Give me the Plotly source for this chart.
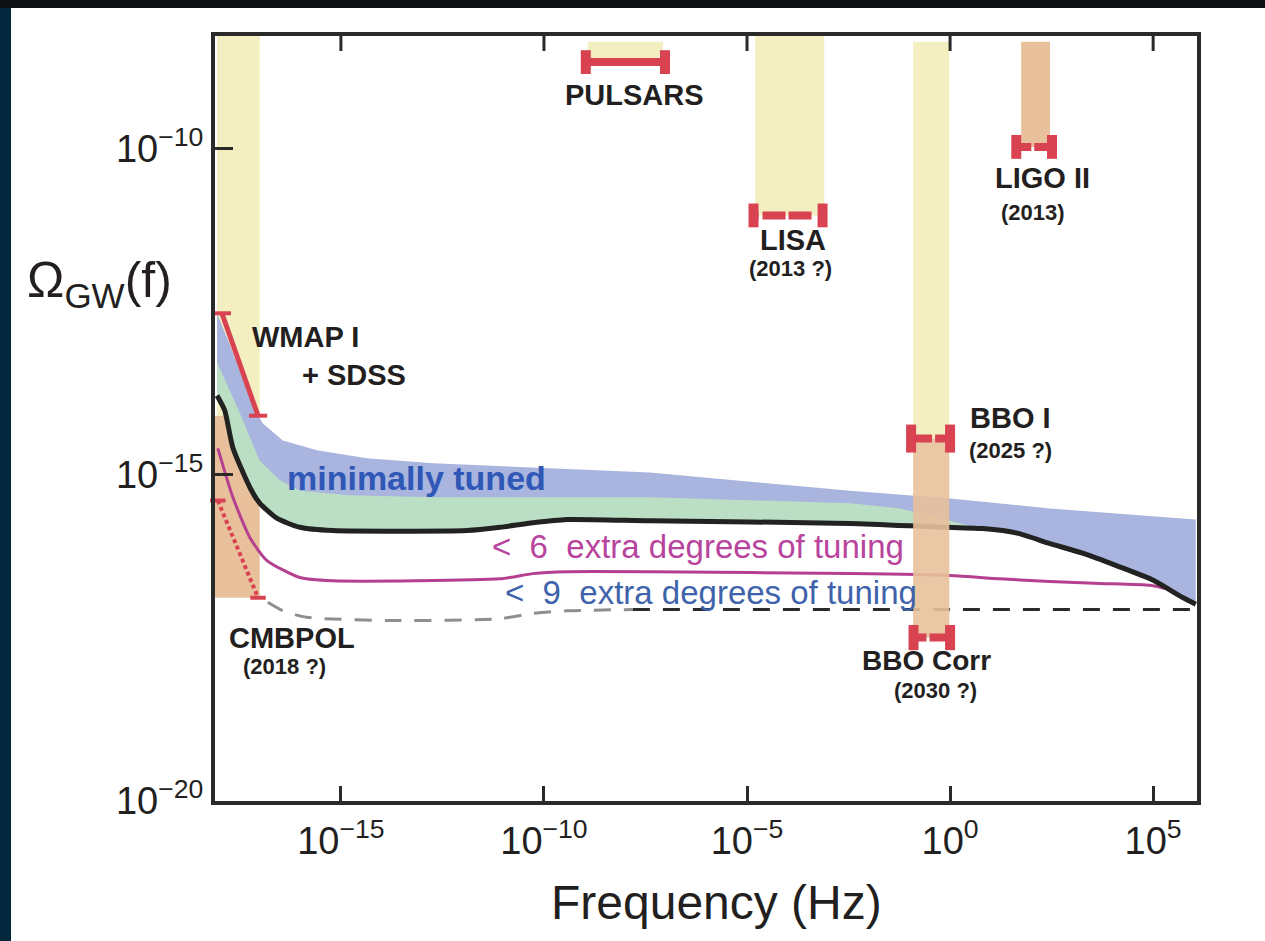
import numpy as np
import plotly.graph_objects as go

# ---------------- data (log10 values) ----------------
black_logf = [-18.05, -17.86, -17.66, -17.24, -17.00, -16.58, -16.01, -15.20, -11.90, -11.08,
              -10.27, -9.43, -7.39, -2.46, -0.49, 0.81, 1.65, 2.46, 3.28, 4.11, 4.93, 5.74, 6.05]
black_logomega = [-13.79, -14.02, -14.59, -15.20, -15.44, -15.67, -15.81, -15.86, -15.86, -15.81,
                  -15.74, -15.69, -15.71, -15.75, -15.80, -15.83, -15.90, -16.06, -16.21, -16.40,
                  -16.60, -16.89, -16.99]

blue_upper_logf = [-18.05, -17.73, -17.36, -17.12, -16.92, -16.43, -15.59, -14.36, -12.73, -10.27,
                   -7.39, -2.46, 0.00, 2.46, 4.93, 6.05]
blue_upper_logomega = [-12.53, -13.02, -13.63, -14.02, -14.22, -14.48, -14.63, -14.75, -14.83, -14.89,
                       -14.97, -15.25, -15.37, -15.52, -15.63, -15.69]

green_upper_logf = [-18.05, -17.49, -17.00, -16.50, -16.01, -14.78, -12.73, -7.39, -2.46, -1.23, 0.00, 0.62]
green_upper_logomega = [-13.28, -14.06, -14.79, -15.09, -15.25, -15.32, -15.35, -15.35, -15.44, -15.52,
                        -15.71, -15.81]

magenta_logf = [-18.03, -17.66, -17.24, -16.82, -16.01, -15.20, -11.08, -10.27, -9.43, -7.39,
                -2.46, 0.00, 1.23, 2.46, 3.69, 4.93, 5.30]
magenta_logomega = [-14.60, -15.35, -15.97, -16.32, -16.58, -16.63, -16.60, -16.52, -16.49, -16.49,
                    -16.52, -16.55, -16.60, -16.64, -16.67, -16.70, -16.75]

dashed_gray_logf = [-16.80, -16.43, -15.84, -13.55, -11.08, -10.27, -9.43, -7.81]
dashed_gray_logomega = [-16.96, -17.09, -17.19, -17.24, -17.21, -17.13, -17.09, -17.07]
dashed_black_logf = [-7.81, -2.46, 6.08]
dashed_black_logomega = [-17.07, -17.07, -17.07]

# sensitivity bands: (logf_min, logf_max, logOmega_min, logOmega_max)
band_left_yellow = (-18.05, -17.0, -14.10, -8.2)
band_left_orange = (-18.1, -17.0, -16.89, -14.10)
band_pulsars = (-8.92, -7.07, -8.68, -8.37)
band_lisa = (-4.80, -3.10, -11.03, -8.2)
band_bbo_yellow = (-0.91, -0.02, -14.45, -8.37)
band_ligo = (1.75, 2.46, -9.98, -8.37)
band_bbo_orange = (-0.91, -0.02, -17.50, -14.45)

# horizontal sensitivity bars: (logf_min, logf_max, logOmega, dash)
bar_pulsars = (-8.97, -7.02, -8.68, "solid")
bar_lisa = (-4.84, -3.14, -11.03, "5px,4px,23px,3px,23px,7px,5px,200px")
bar_ligo = (1.63, 2.51, -9.98, "15px,3px,18px,200px")
bar_bbo1 = (-0.96, 0.00, -14.45, "21px,3px,15px,200px")
bar_bbocorr = (-0.90, 0.00, -17.50, "13px,3px,21px,200px")

# CMB limits (slanted)
wmap_logf = [-17.93, -17.04]
wmap_logomega = [-12.53, -14.10]
cmbpol_logf = [-18.03, -17.04]
cmbpol_logomega = [-15.40, -16.89]

x_ticks = [-15, -10, -5, 0, 5]
x_ticktext = ["10<sup>−15</sup>", "10<sup>−10</sup>", "10<sup>−5</sup>", "10<sup>0</sup>", "10<sup>5</sup>"]
y_ticks = [-20, -15, -10]
y_ticktext = ["10<sup>−20</sup>", "10<sup>−15</sup>", "10<sup>−10</sup>"]

X_RANGE = [-18.1, 6.08]
Y_RANGE = [-20.005, -8.28]
TOP_TICK_DEPTH = 0.23  # decades (tick length of the mirrored top ticks)

# ---------------- colours / fonts ----------------
YELLOW = "#f3efc1"
ORANGE = "#e8c19c"
BLUE = "#a9b5de"
GREEN = "#badfc4"
RED = "#d84251"
INK = "#231f20"
AXIS = "#2a2a2a"
FONT = "Liberation Sans, Arial, Helvetica, sans-serif"


def p(a):
    return 10 ** np.asarray(a, dtype=float)


fig = go.Figure()


def add_band(b, color, opacity=1.0):
    x0, x1, y0, y1 = b
    fig.add_trace(go.Scatter(x=p([x0, x1, x1, x0, x0]), y=p([y0, y0, y1, y1, y0]),
                             mode="lines", fill="toself", fillcolor=color,
                             line=dict(width=0, color=color), opacity=opacity,
                             hoverinfo="skip"))


for b in [band_left_yellow, band_pulsars, band_lisa, band_bbo_yellow]:
    add_band(b, YELLOW)
for b in [band_left_orange, band_ligo]:
    add_band(b, ORANGE)

# minimally tuned band (blue) between upper curve and black curve
blue_x = list(blue_upper_logf) + list(black_logf[::-1])
blue_y = list(blue_upper_logomega) + list(black_logomega[::-1])
fig.add_trace(go.Scatter(x=p(blue_x), y=p(blue_y), mode="lines", fill="toself",
                         fillcolor=BLUE, line=dict(width=0, color=BLUE), hoverinfo="skip"))

# green band between green upper curve and black curve
bx = [f for f in black_logf if f <= green_upper_logf[-1]]
by = [o for f, o in zip(black_logf, black_logomega) if f <= green_upper_logf[-1]]
green_x = list(green_upper_logf) + bx[::-1]
green_y = list(green_upper_logomega) + by[::-1]
fig.add_trace(go.Scatter(x=p(green_x), y=p(green_y), mode="lines", fill="toself",
                         fillcolor=GREEN, line=dict(width=0, color=GREEN), hoverinfo="skip"))

# dashed curve
fig.add_trace(go.Scatter(x=p(dashed_gray_logf), y=p(dashed_gray_logomega), mode="lines",
                         line=dict(color="#8e8e8e", width=3, dash="17px,13px", shape="spline",
                                   smoothing=0.6), hoverinfo="skip"))
fig.add_trace(go.Scatter(x=p(dashed_black_logf), y=p(dashed_black_logomega), mode="lines",
                         line=dict(color=AXIS, width=3, dash="17px,13px"), hoverinfo="skip"))
# magenta curve
fig.add_trace(go.Scatter(x=p(magenta_logf), y=p(magenta_logomega), mode="lines",
                         line=dict(color="#b5408f", width=3, shape="spline", smoothing=0.6),
                         hoverinfo="skip"))
# black curve
fig.add_trace(go.Scatter(x=p(black_logf), y=p(black_logomega), mode="lines",
                         line=dict(color="#222222", width=5, shape="spline", smoothing=0.6),
                         hoverinfo="skip"))

# BBO correlated band drawn over the curves
add_band(band_bbo_orange, ORANGE, opacity=0.9)

# horizontal bars with caps
for b, cap in [(bar_pulsars, 17), (bar_lisa, 17), (bar_ligo, 17), (bar_bbo1, 20), (bar_bbocorr, 18)]:
    x0, x1, y, dash = b
    fig.add_trace(go.Scatter(x=p([x0, x1]), y=p([y, y]), mode="lines+markers",
                             line=dict(color=RED, width=8, dash=dash),
                             marker=dict(symbol="line-ns", size=cap, color=RED,
                                         line=dict(color=RED, width=10)),
                             cliponaxis=False, hoverinfo="skip"))

# CMB limits
fig.add_trace(go.Scatter(x=p(wmap_logf), y=p(wmap_logomega), mode="lines+markers",
                         line=dict(color=RED, width=5),
                         marker=dict(symbol="line-ew", size=13, color=RED, line=dict(color=RED, width=4)),
                         cliponaxis=False, hoverinfo="skip"))
fig.add_trace(go.Scatter(x=p(cmbpol_logf), y=p(cmbpol_logomega), mode="lines+markers",
                         line=dict(color=RED, width=4, dash="4px,3px"),
                         marker=dict(symbol="line-ew", size=11, color=RED, line=dict(color=RED, width=4)),
                         cliponaxis=False, hoverinfo="skip"))

# mirrored tick marks on the top frame (built from the tick list)
top_x, top_y = [], []
for t in x_ticks:
    top_x += [10.0 ** t, 10.0 ** t, None]
    top_y += [10.0 ** (Y_RANGE[1] + 0.05), 10.0 ** (Y_RANGE[1] - TOP_TICK_DEPTH), None]
fig.add_trace(go.Scatter(x=top_x, y=top_y, mode="lines", line=dict(color=AXIS, width=3),
                         hoverinfo="skip", connectgaps=False))

# ---------------- text ----------------
labels = [
    ("PULSARS", -7.76, -9.19, 29, True, INK, "center"),
    ("LISA", -3.87, -11.41, 29, True, INK, "center"),
    ("(2013 ?)", -3.94, -11.84, 22, True, INK, "center"),
    ("LIGO II", 2.27, -10.46, 29, True, INK, "center"),
    ("(2013)", 2.04, -10.98, 22, True, INK, "center"),
    ("WMAP I", -17.24, -12.90, 29, True, INK, "left"),
    ("+ SDSS", -14.68, -13.48, 29, True, INK, "center"),
    ("BBO I", 1.48, -14.13, 29, True, INK, "center"),
    ("(2025 ?)", 1.48, -14.63, 22, True, INK, "center"),
    ("BBO Corr", -0.59, -17.85, 28, True, INK, "center"),
    ("(2030 ?)", -0.37, -18.31, 22, True, INK, "center"),
    ("CMBPOL", -16.21, -17.50, 29, True, INK, "center"),
    ("(2018 ?)", -16.38, -17.94, 22, True, INK, "center"),
    ("minimally tuned", -13.13, -15.06, 34, True, "#2f57b6", "center"),
    ("<\u00a0\u00a06\u00a0\u00a0extra degrees of tuning", -11.33, -16.10, 33, False, "#b8449e", "left"),
    ("<\u00a0\u00a09\u00a0\u00a0extra degrees of tuning", -11.01, -16.81, 33, False, "#3f63ab", "left"),
]
for text, lx, ly, size, bold, color, anchor in labels:
    fig.add_annotation(x=lx, y=ly, xref="x", yref="y", text=text, showarrow=False,
                       xanchor=anchor, yanchor="middle",
                       font=dict(family=FONT, size=size, color=color,
                                 weight="bold" if bold else "normal"))

fig.add_annotation(x=(25 - 215) / 982, y=(801 - 283) / 765, xref="paper", yref="paper",
                   text="Ω<sub>GW</sub>(f)", showarrow=False, xanchor="left", yanchor="middle",
                   font=dict(family=FONT, size=50, color=INK))
fig.add_annotation(x=(716 - 215) / 982, y=(801 - 902) / 765, xref="paper", yref="paper",
                   text="Frequency (Hz)", showarrow=False, xanchor="center", yanchor="middle",
                   font=dict(family=FONT, size=48, color=INK))

# dark page edges
fig.add_shape(type="rect", xref="paper", yref="paper", x0=-215 / 982, x1=(11 - 215) / 982,
              y0=(801 - 941) / 765, y1=801 / 765, fillcolor="#03283d", line=dict(width=0), layer="above")
fig.add_shape(type="rect", xref="paper", yref="paper", x0=-215 / 982, x1=1050 / 982,
              y0=(801 - 8) / 765, y1=801 / 765, fillcolor="#0d0f12", line=dict(width=0), layer="above")

axis_common = dict(type="log", showgrid=False, zeroline=False, showline=True, linewidth=4,
                   linecolor=AXIS, ticks="inside", tickwidth=3, tickcolor=AXIS, mirror=True,
                   tickfont=dict(family=FONT, size=38, color=INK))
fig.update_layout(
    xaxis=dict(range=X_RANGE, tickvals=p(x_ticks), ticktext=x_ticktext, ticklen=15,
               ticklabelstandoff=3, **axis_common),
    yaxis=dict(range=Y_RANGE, tickvals=p(y_ticks), ticktext=y_ticktext, ticklen=18,
               ticklabelstandoff=0, **axis_common),
)

fig.update_layout(width=1265, height=941, margin=dict(l=215, r=68, t=36, b=140),
                  plot_bgcolor="white", paper_bgcolor="white", showlegend=False,
                  font=dict(family=FONT))

fig.write_html("out.html")
